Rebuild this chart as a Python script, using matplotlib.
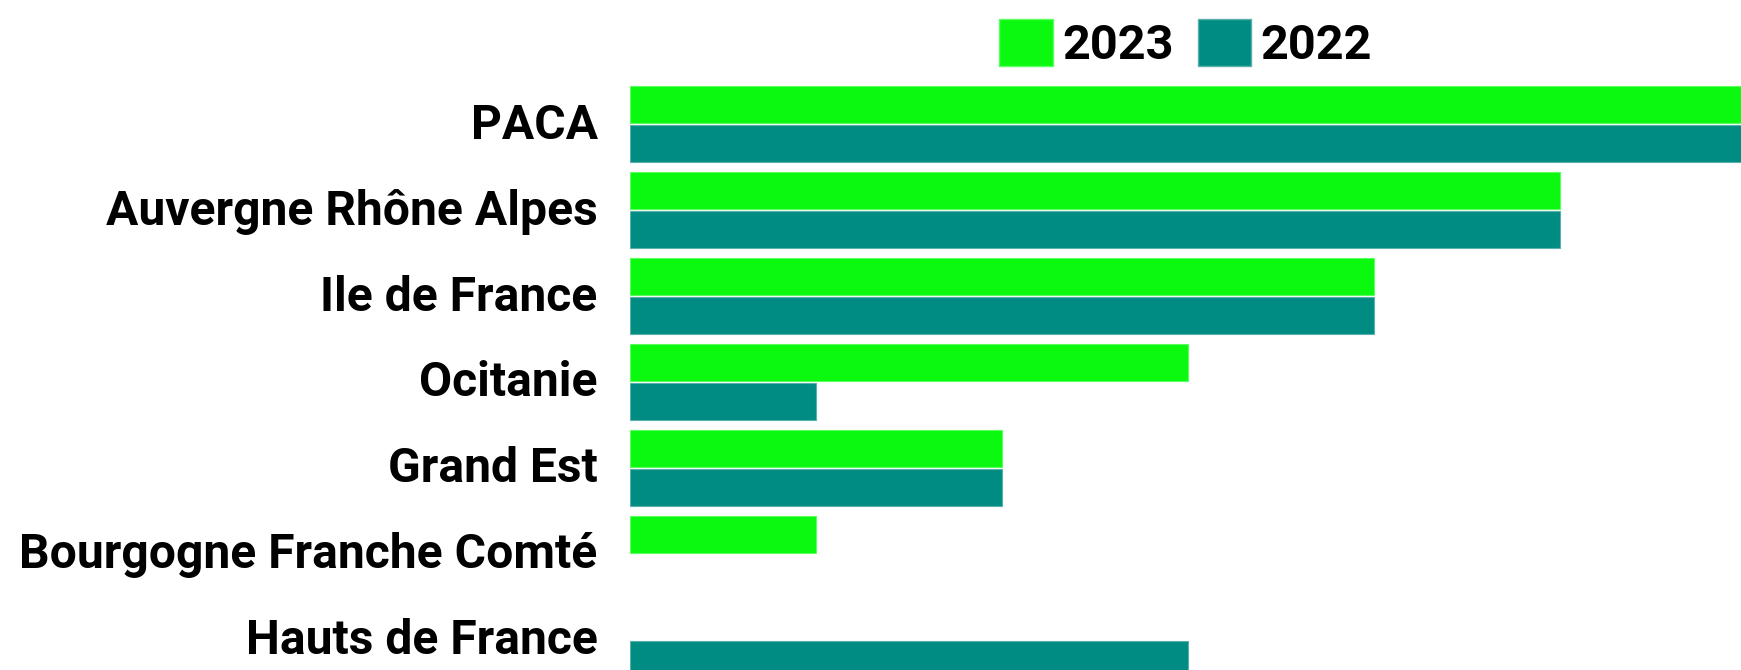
import matplotlib.pyplot as plt
from matplotlib.patches import Patch
from matplotlib.transforms import ScaledTranslation
import numpy as np

plt.rcParams['font.family'] = ['Roboto', 'DejaVu Sans']

regions = ['PACA', 'Auvergne Rhône Alpes', 'Ile de France', 'Ocitanie',
           'Grand Est', 'Bourgogne Franche Comté', 'Hauts de France']
vals_2023 = [6, 5, 4, 3, 2, 1, 0]
vals_2022 = [6, 5, 4, 1, 2, 0, 3]

green = '#0AF90E'
teal = '#008C82'

fig = plt.figure(figsize=(17.41, 6.70), dpi=100)
ax = fig.add_axes([629.6 / 1741, 0, 1 - 629.6 / 1741, 1])

y = np.arange(len(regions))
h = 0.43
off = h / 2 + 0.013
ax.barh(y - off, vals_2023, height=h, color=green, edgecolor='#5cff60',
        linewidth=[0.8 if v else 0 for v in vals_2023])
ax.barh(y + off, vals_2022, height=h, color=teal, edgecolor='#5bb0aa',
        linewidth=[0.8 if v else 0 for v in vals_2022])

ax.set_xlim(0, 5.97)
ax.set_ylim(6.355, -1.4476)
ax.set_yticks(y)
ax.set_yticklabels(regions, fontsize=34.6, fontweight='bold')
ax.tick_params(axis='y', length=0, pad=23)
# labels sit a touch above the bar pair centre
shift = ScaledTranslation(0, 0.035, fig.dpi_scale_trans)
for lbl in ax.get_yticklabels():
    lbl.set_transform(lbl.get_transform() + shift)
ax.set_xticks([])
for s in ax.spines.values():
    s.set_visible(False)

handles = [Patch(facecolor=green, edgecolor='#5cff60', label='2023'),
           Patch(facecolor=teal, edgecolor='#5bb0aa', label='2022')]
fig.legend(handles=handles, loc='center', bbox_to_anchor=(0.681, 0.935), ncol=2,
           frameon=False, prop={'size': 35, 'weight': 'bold'},
           handlelength=1.11, handleheight=1.11, handletextpad=0.19,
           columnspacing=0.49, borderpad=0, borderaxespad=0)

fig.savefig('out.png', dpi=100)
